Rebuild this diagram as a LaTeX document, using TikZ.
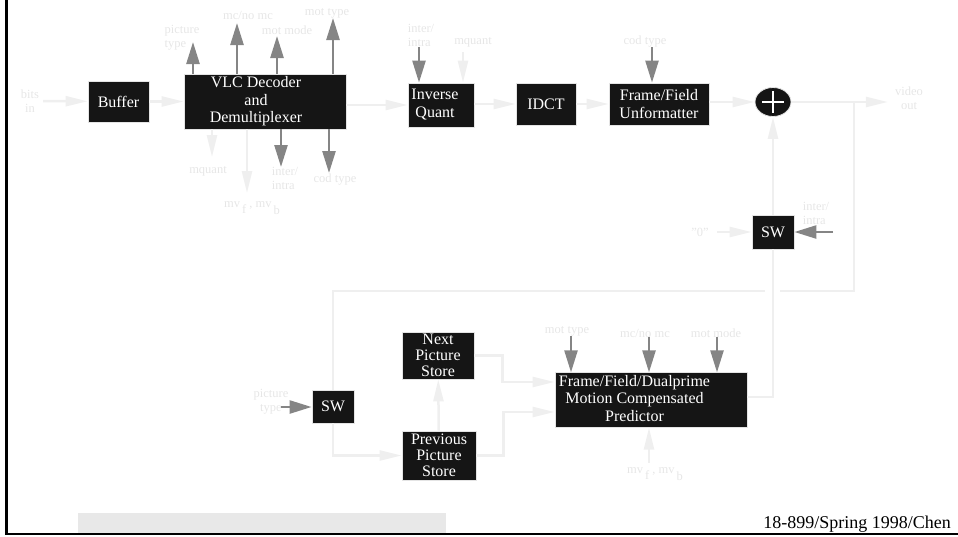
\documentclass[tikz,border=0pt]{standalone}
\usepackage{fontspec}
\setmainfont{Liberation Serif}
\usepackage{xcolor}
\usetikzlibrary{positioning, shapes.geometric, arrows.meta}

\definecolor{boxblack}{HTML}{151515}
\definecolor{boxedge}{HTML}{E4E4E4}
\definecolor{linec}{HTML}{EFEFEF}
\definecolor{labelc}{HTML}{E6E6E6}
\definecolor{ctrlc}{HTML}{858585}
\definecolor{barc}{HTML}{E8E8E8}

\begin{document}
\begin{tikzpicture}[
  x=1pt, y=-1pt,
  blk/.style={fill=boxblack, draw=boxedge, line width=0.8pt, text=white,
    font=\fontsize{16}{17.5}\selectfont, align=center, inner sep=1pt},
  store/.style={blk, font=\fontsize{16}{16}\selectfont},
  sumnode/.style={ellipse, fill=boxblack, draw=boxedge, line width=0.8pt,
    minimum width=36, minimum height=29, inner sep=0pt},
  lbl/.style={text=labelc, font=\fontsize{12.5}{14}\selectfont, align=center, inner sep=0pt},
  flow/.style={draw=linec, line width=2.5pt},
  flowarr/.style={flow, -{Triangle[length=22pt, width=10pt]}},
  ctrl/.style={draw=ctrlc, line width=2.5pt, -{Triangle[length=22pt, width=13pt]}}
]
\useasboundingbox (0,0) rectangle (958,536);

% Frame and footer
\fill[barc] (78,513) rectangle (446,533);
\draw[line width=3pt] (6.5,0) -- (6.5,534.5);
\draw[line width=2pt] (5,533.5) -- (958,533.5);
\node[anchor=base east, font=\fontsize{18}{20}\selectfont, inner sep=0pt] (foot) at (951,528)
  {18-899/Spring 1998/Chen};

% Decoder chain
\node[lbl] (bits) at (30,101) {bits\\in};
\node[blk, minimum width=61, minimum height=41] (buf) at (118.5,101.5) {Buffer};
\node[blk, minimum width=162, minimum height=55] (vlc) at (265,101.5)
  {\begin{tabular}{@{}c@{}}VLC Decoder\\and\\Demultiplexer\end{tabular}\hspace*{18pt}};
\node[blk, minimum width=66, minimum height=44] (iq) at (441,105)
  {\begin{tabular}{@{}c@{}}Inverse\\Quant\end{tabular}\hspace*{12pt}};
\node[blk, minimum width=60, minimum height=42] (idct) at (546,104) {IDCT};
\node[blk, minimum width=100, minimum height=42] (ffu) at (659,104) {Frame/Field\\Unformatter};
\node[sumnode] (add) at (773,102) {};
\draw[white, line width=1.5pt] (add.center) +(-11,0) -- +(11,0) (add.center) +(0,-11) -- +(0,11);
\node[lbl] (vout) at (909,98) {video\\out};

\draw[flowarr, shorten <=4pt] (bits) -- (buf);
\draw[flowarr] (buf) -- (vlc);
\draw[flowarr] (vlc.east |- iq) -- (iq.west);
\draw[flowarr] (iq.east |- idct) -- (idct.west);
\draw[flowarr] (idct) -- (ffu);
\draw[flowarr] (ffu.east |- add) -- (add.west);
\draw[flowarr, shorten >=7pt] (add.east) -- (vout.west |- add);

% VLC outputs (top)
\coordinate (pt1) at (193,42);
\coordinate (mc1) at (237,23);
\coordinate (mm1) at (277,36);
\coordinate (mt1) at (333,18);
\node[lbl, align=left] (lpt1) at (182,38) {picture\\type};
\node[lbl] (lmc1) at (248,15) {mc/no mc};
\node[lbl] (lmm1) at (287,30) {mot mode};
\node[lbl] (lmt1) at (327,13) {mot type};
\draw[ctrl] (vlc.north -| pt1) -- (pt1);
\draw[ctrl] (vlc.north -| mc1) -- (mc1);
\draw[ctrl] (vlc.north -| mm1) -- (mm1);
\draw[ctrl] (vlc.north -| mt1) -- (mt1);

% VLC outputs (bottom)
\coordinate (mq1) at (212,157);
\coordinate (mv1) at (247,193);
\coordinate (ii1) at (281,167);
\coordinate (ct1) at (329,173);
\node[lbl] (lmq1) at (208,171) {mquant};
\node[lbl] (lmv1) at (252,208) {mv\,\raisebox{-6pt}{f} , mv\,\raisebox{-7pt}{b}};
\node[lbl, align=left] (lii1) at (285,178) {inter/\\intra};
\node[lbl] (lct1) at (335,180) {cod type};
\draw[flowarr] (vlc.south -| mq1) -- (mq1);
\draw[flowarr] (vlc.south -| mv1) -- (mv1);
\draw[ctrl] (vlc.south -| ii1) -- (ii1);
\draw[ctrl] (vlc.south -| ct1) -- (ct1);

% Inputs to inverse quant and unformatter
\coordinate (ii2) at (419,47);
\coordinate (mq2) at (463,52);
\coordinate (ct2) at (652,47);
\node[lbl, align=left] (lii2) at (421,35) {inter/\\intra};
\node[lbl] (lmq2) at (473,42) {mquant};
\node[lbl] (lct2) at (645,42) {cod type};
\draw[ctrl] (ii2) -- (iq.north -| ii2);
\draw[flowarr] (mq2) -- (iq.north -| mq2);
\draw[ctrl] (ct2) -- (ffu.north -| ct2);

% Intra/inter switch
\node[blk, minimum width=42, minimum height=34] (sw1) at (773,232) {SW};
\node[lbl] (zero) at (700,232) {"0"};
\coordinate (ii3) at (833,232);
\node[lbl, align=left] (lii3) at (816,213) {inter/\\intra};
\draw[flowarr, shorten <=8pt] (zero) -- (sw1);
\draw[ctrl] (ii3) -- (sw1);
\draw[flowarr] (sw1) -- (add);

% Picture stores
\node[blk, minimum width=42, minimum height=33] (sw2) at (333,406.5) {SW};
\coordinate (pt2) at (281,407);
\node[lbl] (lpt2) at (271,402) {picture\\type};
\draw[ctrl] (pt2) -- (sw2.west |- pt2);
\node[store, minimum width=72, minimum height=47] (nps) at (438,355.5) {Next\\Picture\\Store};
\node[store, minimum width=74, minimum height=49] (pps) at (439,455.5) {Previous\\Picture\\Store};
\draw[flowarr] (sw2) |- (pps);
\draw[flowarr] (pps) -- (nps);

% Reconstructed picture loop
\coordinate (tap) at (854,101);
\coordinate (lp) at (854,291);
\draw[flow] (tap) -- (lp) -| (sw2);
\fill[white] (765,287) rectangle (780,295);

% Motion compensated predictor
\node[blk, minimum width=192, minimum height=54] (mcp) at (651,400)
  {\begin{tabular}{@{}c@{}}Frame/Field/Dualprime\\Motion Compensated\\Predictor\end{tabular}\hspace*{33pt}};
\draw[flowarr] (nps.east) -- ++(28,0) |- ([yshift=18pt]mcp.west);
\draw[flowarr] (pps.east) -- ++(27,0) |- ([yshift=-12pt]mcp.west);
\draw[flow] ([yshift=3pt]mcp.east) -| (sw1.south);

\coordinate (mt3) at (571,336);
\coordinate (mc3) at (649,337);
\coordinate (mm3) at (717,337);
\coordinate (mv3) at (649,463);
\node[lbl] (lmt3) at (567,331) {mot type};
\node[lbl] (lmc3) at (645,333) {mc/no mc};
\node[lbl] (lmm3) at (716,333) {mot mode};
\node[lbl] (lmv3) at (655,474) {mv\,\raisebox{-6pt}{f} , mv\,\raisebox{-7pt}{b}};
\draw[ctrl] (mt3) -- (mcp.north -| mt3);
\draw[ctrl] (mc3) -- (mcp.north -| mc3);
\draw[ctrl] (mm3) -- (mcp.north -| mm3);
\draw[flowarr] (mv3) -- (mcp.south -| mv3);

\end{tikzpicture}
\end{document}
